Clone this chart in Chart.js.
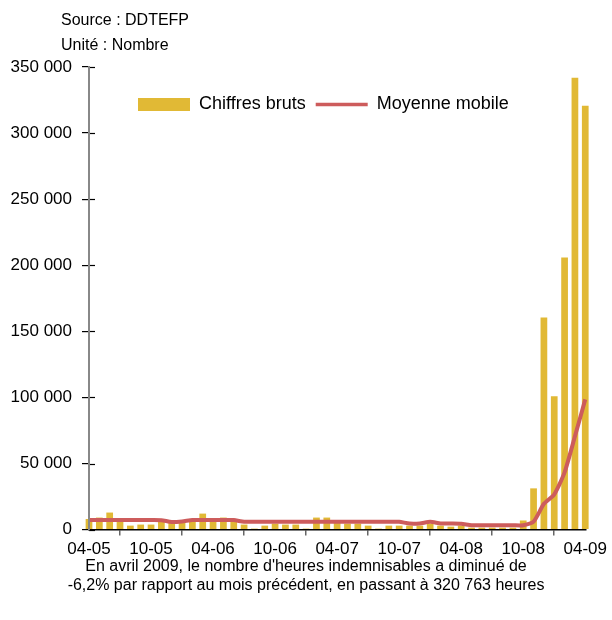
<!DOCTYPE html>
<html>
<head>
<meta charset="utf-8">
<script src="https://cdn.jsdelivr.net/npm/chart.js@4.4.0/dist/chart.umd.min.js"></script>
<style>
    body { margin: 0; background: #fff; }
    #wrap { width: 612px; height: 620px; }
</style>
</head>
<body>
<div id="wrap"><canvas id="myChart"></canvas></div>
<script>
// months, April 2005 -> April 2009
const months = [
    '04-05', '05-05', '06-05', '07-05', '08-05', '09-05', '10-05', '11-05', '12-05', '01-06', '02-06', '03-06',
    '04-06', '05-06', '06-06', '07-06', '08-06', '09-06', '10-06', '11-06', '12-06', '01-07', '02-07', '03-07',
    '04-07', '05-07', '06-07', '07-07', '08-07', '09-07', '10-07', '11-07', '12-07', '01-08', '02-08', '03-08',
    '04-08', '05-08', '06-08', '07-08', '08-08', '09-08', '10-08', '11-08', '12-08', '01-09', '02-09', '03-09',
    '04-09'
];

const chiffresBruts = [
    8000, 9100, 12900, 7000, 3000, 3800, 3800, 7500, 5500, 6000, 7000, 12100,
    7500, 9100, 7000, 3800, 750, 3000, 4500, 3800, 3800, 750, 9100, 9100,
    5000, 4500, 4500, 3000, 750, 3000, 3000, 3000, 3000, 4500, 3000, 2250,
    3000, 1500, 1500, 1500, 1500, 1500, 6900, 31200, 160500, 100800, 205800, 341900,
    320763
];

const moyenneMobile = [
    7200, 7200, 7200, 7200, 7200, 7200, 7200, 7100, 5800, 6200, 7200, 7200,
    7200, 7200, 7200, 5900, 5900, 5900, 5900, 5900, 5900, 5900, 5900, 5900,
    5900, 5900, 5900, 5900, 5900, 5900, 5900, 4600, 4700, 5900, 4700, 4600,
    4400, 3300, 3300, 3300, 3300, 3300, 3300, 6000, 19500, 26700, 43300, 70500,
    98500
];

const seriesNames = ['Chiffres bruts', 'Moyenne mobile'];
const headerLines = ['Source : DDTEFP', 'Unité : Nombre'];
const captionLines = [
    "En avril 2009, le nombre d'heures indemnisables a diminué de",
    '-6,2% par rapport au mois précédent, en passant à 320 763 heures'
];

Chart.defaults.font.family = '"Liberation Sans", Arial, sans-serif';
Chart.defaults.color = '#000';

// source / unit lines above the plot
const headerText = {
    id: 'headerText',
    afterDraw(chart) {
        const ctx = chart.ctx;
        ctx.save();
        ctx.font = '16px "Liberation Sans", Arial, sans-serif';
        ctx.fillStyle = '#000';
        ctx.textBaseline = 'middle';
        ctx.fillText(headerLines[0], 61, 21);
        ctx.fillText(headerLines[1], 61, 46);
        ctx.restore();
    }
};

// y tick marks cross the axis: add the inner half
const innerTicks = {
    id: 'innerTicks',
    afterDatasetsDraw(chart) {
        const y = chart.scales.y;
        const ctx = chart.ctx;
        ctx.save();
        ctx.strokeStyle = '#000';
        ctx.lineWidth = 1.2;
        y.ticks.forEach((t) => {
            const py = Math.round(y.getPixelForValue(t.value)) + 0.5;
            ctx.beginPath();
            ctx.moveTo(y.right, py);
            ctx.lineTo(y.right + 6, py);
            ctx.stroke();
        });
        ctx.restore();
    }
};

// legend inside the plot area, caption centred on the page
const placeBoxes = {
    id: 'placeBoxes',
    afterLayout(chart) {
        const lg = chart.legend;
        lg.left = 128;
        lg.top = 85.5;
        lg.bottom = lg.top + lg.height;

        const tb = chart.titleBlock;
        tb.left = 0;
        tb.right = chart.width;
        tb.top = 557;
        tb.bottom = tb.top + tb.height;
    }
};

function formatThousands(v) {
    return String(v).replace(/\B(?=(\d{3})+(?!\d))/g, ' ');
}

const ctx = document.getElementById('myChart').getContext('2d');
new Chart(ctx, {
    type: 'bar',
    data: {
        labels: months,
        datasets: [
            {
                label: seriesNames[0],
                data: chiffresBruts,
                backgroundColor: '#E1B935',
                borderWidth: 0,
                barPercentage: 0.65,
                categoryPercentage: 1.0,
                order: 2,
                clip: false,
            },
            {
                type: 'line',
                label: seriesNames[1],
                data: moyenneMobile,
                borderColor: '#CD5C5C',
                backgroundColor: '#CD5C5C',
                borderWidth: 4,
                pointRadius: 0,
                tension: 0.2,
                fill: false,
                order: 1,
                clip: false,
            },
        ],
    },
    options: {
        responsive: true,
        maintainAspectRatio: false,
        animation: false,
        layout: {
            padding: { top: 29, right: 25, bottom: 19, left: 0 },
        },
        plugins: {
            tooltip: { enabled: false },
            legend: {
                display: true,
                position: 'top',
                align: 'start',
                labels: {
                    usePointStyle: true,
                    pointStyleWidth: 52,
                    boxHeight: 13,
                    padding: 10,
                    font: { size: 18 },
                    color: '#000',
                    sort: (a, b) => a.datasetIndex - b.datasetIndex,
                    generateLabels(chart) {
                        const items = Chart.defaults.plugins.legend.labels.generateLabels(chart);
                        items.forEach((it) => {
                            if (it.datasetIndex === 0) {
                                it.pointStyle = 'rect';
                            } else {
                                it.pointStyle = 'line';
                                it.lineWidth = 3.5;
                            }
                        });
                        return items;
                    },
                },
            },
            title: {
                display: true,
                position: 'bottom',
                text: captionLines,
                font: { size: 16, weight: 'normal' },
                color: '#000',
                padding: { top: 0, bottom: 0 },
            },
        },
        scales: {
            x: {
                offset: false,
                grid: {
                    drawOnChartArea: false,
                    drawTicks: true,
                    tickLength: 6,
                    color: '#666',
                    lineWidth: 1.5,
                },
                border: { display: true, color: '#000', width: 1.5 },
                ticks: {
                    autoSkip: false,
                    maxRotation: 0,
                    padding: 5,
                    font: { size: 17, lineHeight: 1 },
                    color: '#000',
                    callback: (value, index) => (index % 6 === 0 ? months[index] : null),
                },
            },
            y: {
                min: 0,
                max: 350000,
                afterFit(scale) {
                    scale.width = 89;
                },
                grid: {
                    drawOnChartArea: false,
                    drawTicks: true,
                    tickLength: 7,
                    color: '#000',
                    lineWidth: 1.2,
                },
                border: { display: true, color: '#888', width: 2, z: 1 },
                ticks: {
                    stepSize: 50000,
                    padding: 10,
                    font: { size: 17 },
                    color: '#000',
                    callback: (v) => formatThousands(v),
                },
            },
        },
    },
    plugins: [headerText, innerTicks, placeBoxes],
});
</script>
</body>
</html>
